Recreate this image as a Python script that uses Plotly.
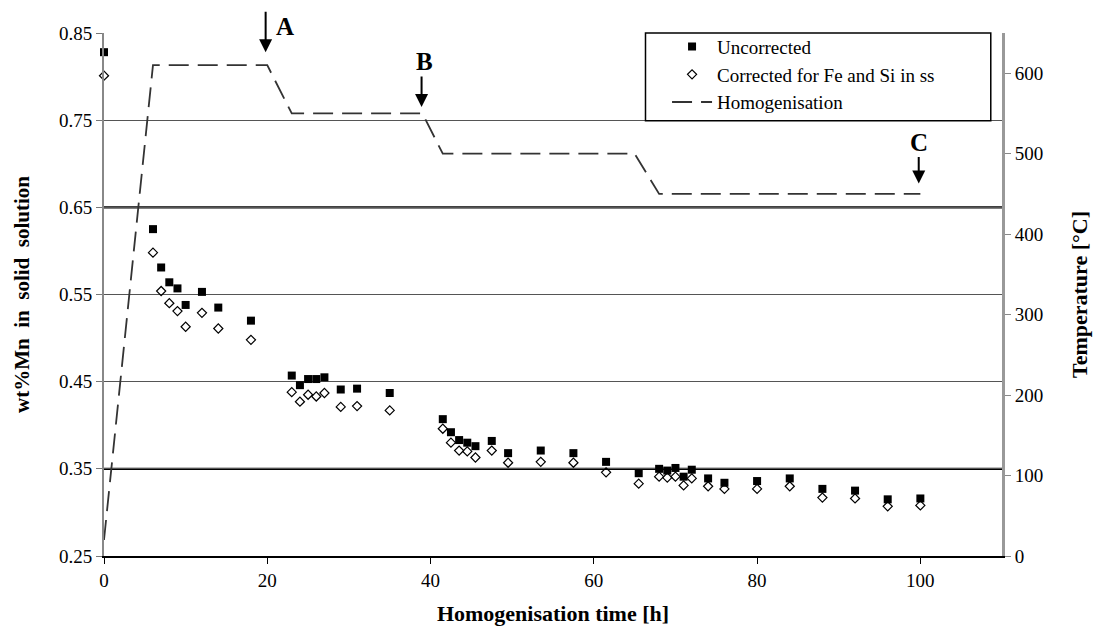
import plotly.graph_objects as go

# ---- data ----
time_h = [0, 6, 7, 8, 9, 10, 12, 14, 18, 23, 24, 25, 26, 27, 29, 31, 35,
          41.5, 42.5, 43.5, 44.5, 45.5, 47.5, 49.5, 53.5, 57.5, 61.5, 65.5,
          68, 69, 70, 71, 72, 74, 76, 80, 84, 88, 92, 96, 100]
uncorrected = [0.828, 0.625, 0.581, 0.564, 0.557, 0.538, 0.553, 0.535, 0.520,
               0.457, 0.446, 0.453, 0.453, 0.455, 0.441, 0.442, 0.437,
               0.407, 0.392, 0.383, 0.380, 0.376, 0.382, 0.368, 0.371, 0.368,
               0.358, 0.345, 0.350, 0.348, 0.351, 0.341, 0.349, 0.339, 0.334,
               0.336, 0.339, 0.327, 0.325, 0.315, 0.316]
corrected = [0.801, 0.598, 0.554, 0.540, 0.531, 0.513, 0.529, 0.511, 0.498,
             0.438, 0.427, 0.435, 0.433, 0.437, 0.421, 0.422, 0.417,
             0.396, 0.380, 0.371, 0.370, 0.363, 0.371, 0.357, 0.358, 0.357,
             0.346, 0.333, 0.341, 0.340, 0.341, 0.331, 0.339, 0.330, 0.327,
             0.327, 0.330, 0.317, 0.316, 0.307, 0.308]
homog_time = [0, 6, 20, 23, 39, 41.5, 65, 68, 100]
homog_temp = [20, 610, 610, 550, 550, 500, 500, 450, 450]

left_ticks = [0.25, 0.35, 0.45, 0.55, 0.65, 0.75, 0.85]
left_labels = ["0.25", "0.35", "0.45", "0.55", "0.65", "0.75", "0.85"]
right_ticks = [0, 100, 200, 300, 400, 500, 600]
x_ticks = [0, 20, 40, 60, 80, 100]

# stage markers
stage_labels = ["A", "B", "C"]
stage_time = [19.8, 38.9, 99.8]
stage_tip = [626, 558, 463]
stage_tail_px = [-42, -32, -28]

FONT = "Liberation Serif, Times New Roman, serif"

fig = go.Figure()
fig.add_trace(go.Scatter(
    x=time_h, y=uncorrected, mode="markers", name="Uncorrected",
    legendgroup="a", cliponaxis=False,
    marker=dict(symbol="square", size=8, color="black")))
fig.add_trace(go.Scatter(
    x=time_h, y=corrected, mode="markers", name="Corrected for Fe and Si in ss",
    legendgroup="b", cliponaxis=False,
    marker=dict(symbol="diamond-open", size=7, color="black",
                line=dict(width=1.2, color="black"))))
fig.add_trace(go.Scatter(
    x=homog_time, y=homog_temp, mode="lines", name="Homogenisation",
    legendgroup="c", yaxis="y2",
    line=dict(color="#333333", width=1.8, dash="20px,9px")))

# thicker black gridlines as in reference
for yv in [0.65, 0.35]:
    fig.add_shape(type="line", xref="paper", x0=0, x1=1, yref="y",
                  y0=yv, y1=yv, line=dict(color="black", width=2.2),
                  layer="below")

# legend box
fig.add_shape(type="rect", xref="paper", yref="paper",
              x0=0.603, x1=0.9875, y0=0.832, y1=1.0,
              line=dict(color="black", width=1.5), fillcolor="white",
              layer="above")

annotations = []
label_pos = [(22.2, "paper", 1.012), (39.3, "y2", 614), (99.8, "y2", 514)]
for lab, t, tip, tail, (lx, lref, ly) in zip(stage_labels, stage_time,
                                              stage_tip, stage_tail_px,
                                              label_pos):
    annotations.append(dict(x=t, y=tip, xref="x", yref="y2", text="",
                            showarrow=True, ax=0, ay=tail, arrowhead=2,
                            arrowsize=1.3, arrowwidth=2, arrowcolor="black"))
    annotations.append(dict(x=lx, y=ly, xref="x", yref=lref, text=lab,
                            showarrow=False, xanchor="center",
                            yanchor="middle",
                            font=dict(family=FONT, size=25, color="black",
                                      weight="bold")))

tickfont = dict(family=FONT, size=19, color="black")

fig.update_layout(
    width=1093, height=626,
    margin=dict(l=92, r=92, t=25, b=78),
    paper_bgcolor="white", plot_bgcolor="white",
    font=dict(family=FONT, size=19, color="black"),
    showlegend=True,
    legend=dict(x=0.627, y=1.01, xanchor="left", yanchor="top",
                bgcolor="rgba(0,0,0,0)", borderwidth=0,
                font=dict(family=FONT, size=19, color="black"),
                tracegroupgap=0, itemwidth=40),
    annotations=annotations,
    xaxis=dict(range=[0, 110], tickvals=x_ticks, ticks="outside", ticklen=6,
               tickcolor="black", tickfont=tickfont, showline=True,
               linecolor="black", linewidth=2, showgrid=False, zeroline=False,
               title=dict(text="<b>Homogenisation time [h]</b>", standoff=16,
                          font=dict(family=FONT, size=22))),
    yaxis=dict(range=[0.25, 0.85], tickvals=left_ticks, ticktext=left_labels,
               ticks="outside", ticklen=6, tickcolor="#777", tickfont=tickfont,
               showline=True, linecolor="#888", linewidth=2,
               showgrid=True, gridcolor="#555", gridwidth=1, zeroline=False,
               title=dict(text="<b>wt%Mn  in  solid  solution</b>",
                          standoff=24, font=dict(family=FONT, size=21))),
    yaxis2=dict(range=[0, 650], tickvals=right_ticks, overlaying="y",
                side="right", ticks="outside", ticklen=6, tickcolor="#888",
                tickfont=tickfont, showline=True, linecolor="#999",
                linewidth=3, showgrid=False, zeroline=False,
                title=dict(text="<b>Temperature [°C]</b>", standoff=30,
                           font=dict(family=FONT, size=22))),
)

fig.write_html("out.html")
